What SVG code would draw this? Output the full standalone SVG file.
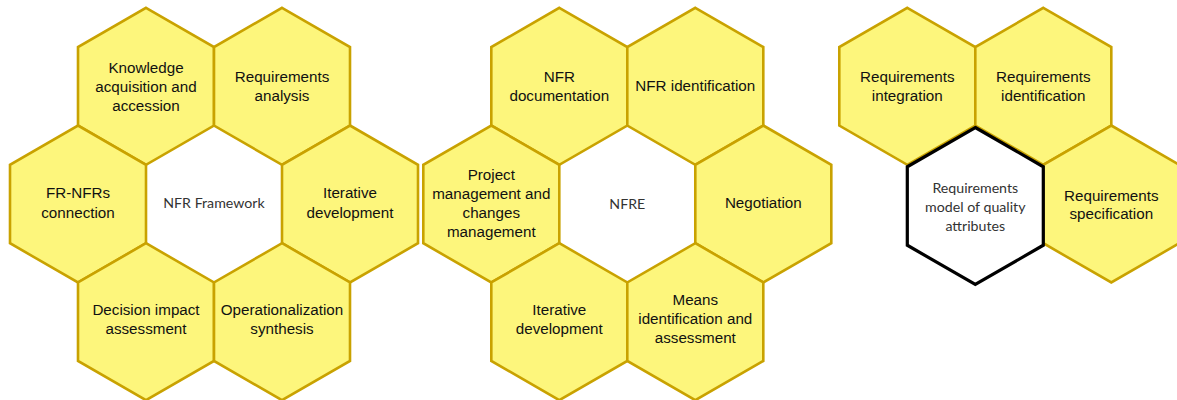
<svg xmlns="http://www.w3.org/2000/svg" xmlns:xlink="http://www.w3.org/1999/xlink" width="1177" height="400" viewBox="0 0 1177 400">
<defs>
<style>
.hy{fill:#FDF67C;stroke:#C9A200;stroke-width:2.6;stroke-linejoin:miter}
.hw{fill:#FFFFFF;stroke:none}
.hb{fill:#FFFFFF;stroke:#000000;stroke-width:3.2;stroke-linejoin:miter}
.t{font-family:"Liberation Sans",Arial,sans-serif;font-size:15.2px;fill:#111111;text-anchor:middle}
.c{font-family:Lato,"Open Sans",sans-serif;font-size:14.2px;fill:#333333;text-anchor:middle}
</style>
<path id="hex" d="M0,-78.5 L68,-39.25 L68,39.25 L0,78.5 L-68,39.25 L-68,-39.25 Z"/>
</defs>
<rect width="1177" height="400" fill="#FFFFFF"/>
<g id="connectors"></g>

<!-- Left cluster -->
<g id="nfr-framework"><use xlink:href="#hex" href="#hex" class="hw" x="214" y="204"/><text class="c" x="214" y="208">NFR Framework</text></g>
<g id="knowledge"><use xlink:href="#hex" href="#hex" class="hy" x="146" y="86.3"/><text class="t"><tspan x="146" y="73">Knowledge</tspan><tspan x="146" y="92">acquisition and</tspan><tspan x="146" y="111">accession</tspan></text></g>
<g id="req-analysis"><use xlink:href="#hex" href="#hex" class="hy" x="282" y="86.3"/><text class="t"><tspan x="282" y="82">Requirements</tspan><tspan x="282" y="101">analysis</tspan></text></g>
<g id="fr-nfrs"><use xlink:href="#hex" href="#hex" class="hy" x="78" y="204"/><text class="t"><tspan x="78" y="198">FR-NFRs</tspan><tspan x="78" y="217.5">connection</tspan></text></g>
<g id="iterative-1"><use xlink:href="#hex" href="#hex" class="hy" x="350" y="204"/><text class="t"><tspan x="350" y="198">Iterative</tspan><tspan x="350" y="217.5">development</tspan></text></g>
<g id="decision"><use xlink:href="#hex" href="#hex" class="hy" x="146" y="321.7"/><text class="t"><tspan x="146" y="315">Decision impact</tspan><tspan x="146" y="334">assessment</tspan></text></g>
<g id="operationalization"><use xlink:href="#hex" href="#hex" class="hy" x="282" y="321.7"/><text class="t"><tspan x="282" y="315">Operationalization</tspan><tspan x="282" y="334">synthesis</tspan></text></g>

<!-- Middle cluster -->
<g id="nfre"><use xlink:href="#hex" href="#hex" class="hw" x="627.3" y="204"/><text class="c" x="627.3" y="208.5">NFRE</text></g>
<g id="nfr-doc"><use xlink:href="#hex" href="#hex" class="hy" x="559.3" y="86.3"/><text class="t"><tspan x="559.3" y="81.5">NFR</tspan><tspan x="559.3" y="100.5">documentation</tspan></text></g>
<g id="nfr-ident"><use xlink:href="#hex" href="#hex" class="hy" x="695.3" y="86.3"/><text class="t" x="695.3" y="91">NFR identification</text></g>
<g id="project"><use xlink:href="#hex" href="#hex" class="hy" x="491.3" y="204"/><text class="t"><tspan x="491.3" y="179.5">Project</tspan><tspan x="491.3" y="198.5">management and</tspan><tspan x="491.3" y="217.5">changes</tspan><tspan x="491.3" y="236.5">management</tspan></text></g>
<g id="negotiation"><use xlink:href="#hex" href="#hex" class="hy" x="763.3" y="204"/><text class="t" x="763.3" y="207.5">Negotiation</text></g>
<g id="iterative-2"><use xlink:href="#hex" href="#hex" class="hy" x="559.3" y="321.7"/><text class="t"><tspan x="559.3" y="315">Iterative</tspan><tspan x="559.3" y="334">development</tspan></text></g>
<g id="means"><use xlink:href="#hex" href="#hex" class="hy" x="695.3" y="321.7"/><text class="t"><tspan x="695.3" y="305">Means</tspan><tspan x="695.3" y="324">identification and</tspan><tspan x="695.3" y="343">assessment</tspan></text></g>

<!-- Right cluster -->
<g id="req-integration"><use xlink:href="#hex" href="#hex" class="hy" x="907.3" y="86.3"/><text class="t"><tspan x="907.3" y="82">Requirements</tspan><tspan x="907.3" y="101">integration</tspan></text></g>
<g id="req-identification"><use xlink:href="#hex" href="#hex" class="hy" x="1043.3" y="86.3"/><text class="t"><tspan x="1043.3" y="82">Requirements</tspan><tspan x="1043.3" y="101">identification</tspan></text></g>
<g id="req-specification"><use xlink:href="#hex" href="#hex" class="hy" x="1111.3" y="204"/><text class="t"><tspan x="1111.3" y="200.5">Requirements</tspan><tspan x="1111.3" y="219">specification</tspan></text></g>
<g id="req-model"><use xlink:href="#hex" href="#hex" class="hb" x="975.3" y="206"/><text class="c"><tspan x="975.3" y="193">Requirements</tspan><tspan x="975.3" y="212">model of quality</tspan><tspan x="975.3" y="231">attributes</tspan></text></g>
</svg>
